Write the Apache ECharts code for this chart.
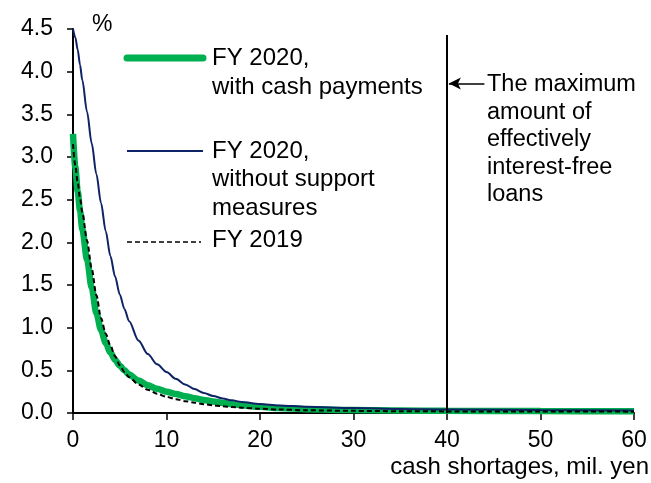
<!DOCTYPE html>
<html>
<head>
<meta charset="utf-8">
<script src="https://cdn.jsdelivr.net/npm/echarts@6/dist/echarts.min.js"></script>
<style>
html,body{margin:0;padding:0;background:#fff;}
#c{width:651px;height:483px;}
</style>
</head>
<body>
<div id="c"></div>
<script>
// cash shortages, mil. yen
var xs = [0,0.25,0.5,0.75,1,1.5,2,2.5,3,3.5,4,4.5,5,5.5,6,7,8,9,10,11,12,13,14,15,16,17,18,20,22,25,30,35,40,50,60];
// FY 2020, with cash payments
var cashPayments = [3.27,2.88,2.6,2.37,2.15,1.8,1.47,1.17,0.97,0.82,0.71,0.625,0.555,0.5,0.45,0.38,0.325,0.283,0.25,0.222,0.197,0.174,0.153,0.135,0.118,0.104,0.092,0.072,0.058,0.045,0.034,0.028,0.025,0.022,0.02];
// FY 2020, without support measures
var noSupport = [4.5,4.4,4.26,4.08,3.9,3.53,3.16,2.8,2.46,2.13,1.84,1.6,1.39,1.22,1.075,0.85,0.69,0.57,0.48,0.40,0.335,0.28,0.235,0.198,0.17,0.148,0.13,0.105,0.089,0.073,0.058,0.048,0.042,0.034,0.03];
// FY 2019
var fy2019 = [3.15,2.9,2.7,2.52,2.35,2.02,1.69,1.38,1.11,0.93,0.79,0.665,0.56,0.48,0.42,0.335,0.272,0.225,0.19,0.162,0.139,0.12,0.104,0.09,0.079,0.07,0.062,0.05,0.041,0.032,0.025,0.021,0.019,0.017,0.016];
var seriesNames = ['FY 2020,\nwith cash payments','FY 2020,\nwithout support\nmeasures','FY 2019'];
var maxLoan = 40;
var annotation = 'The maximum\namount of\neffectively\ninterest-free\nloans';

function pairs(v){ return xs.map(function(x,i){ return [x, v[i]]; }); }

var FONT = 'Liberation Sans, Arial, sans-serif';
var chart = echarts.init(document.getElementById('c'), null, {renderer:'canvas'});

var option = {
  animation:false,
  grid: {left:73, right:17, top:29, bottom:70},
  xAxis: {
    type:'value', min:0, max:60, interval:10,
    axisLine:{show:true, onZero:false, lineStyle:{color:'#000', width:2}},
    axisTick:{show:true, inside:false, length:7, lineStyle:{color:'#000', width:1.5}},
    splitLine:{show:false},
    axisLabel:{color:'#000', fontFamily:FONT, fontSize:23, margin:16}
  },
  yAxis: {
    type:'value', min:0, max:4.5, interval:0.5,
    axisLine:{show:true, lineStyle:{color:'#000', width:2}},
    axisTick:{show:true, length:6, lineStyle:{color:'#000', width:1.5}},
    splitLine:{show:false},
    axisLabel:{color:'#000', fontFamily:FONT, fontSize:23, margin:20,
      formatter:function(v){ return v.toFixed(1); }}
  },
  series: [
    {name:seriesNames[0], type:'line', data:pairs(cashPayments), showSymbol:false, smooth:0.3, smoothMonotone:'x',
     lineStyle:{color:'#00B050', width:6.5}, z:2},
    {name:seriesNames[1], type:'line', data:pairs(noSupport), showSymbol:false, smooth:0.3, smoothMonotone:'x',
     lineStyle:{color:'#0E2366', width:2}, z:3},
    {name:seriesNames[2], type:'line', data:pairs(fy2019), showSymbol:false, smooth:0.3, smoothMonotone:'x',
     lineStyle:{color:'#000', width:2, type:[5,3]}, z:4,
     markLine:{silent:true, symbol:['none','none'], label:{show:false},
       data:[
         [{coord:[maxLoan,0]},{coord:[maxLoan,4.43]}]
       ],
       lineStyle:{color:'#000', width:2, type:'solid'}}
    },
    {name:'arrow', type:'line', data:[], showSymbol:false,
     markLine:{silent:true, symbol:['arrow','none'], symbolSize:[9,12], label:{show:false},
       data:[[{coord:[maxLoan+0.2,3.86]},{coord:[maxLoan+4.0,3.86]}]],
       lineStyle:{color:'#000', width:1.5, type:'solid'}}
    }
  ],
  graphic: [
    {type:'text', left:92, top:13, style:{text:'%', font:'23px '+FONT, fill:'#000'}},
    {type:'text', right:2, top:455, style:{text:'cash shortages, mil. yen', font:'24px '+FONT, fill:'#000'}},
    {type:'text', left:487, top:71, style:{text:annotation, font:'23.5px '+FONT, fill:'#000', lineHeight:27.5}},
    // legend
    {type:'line', shape:{x1:127,y1:58,x2:203,y2:58}, style:{stroke:'#00B050', lineWidth:7, lineCap:'round'}},
    {type:'text', left:212, top:44, style:{text:seriesNames[0], font:'24px '+FONT, fill:'#000', lineHeight:29}},
    {type:'line', shape:{x1:127,y1:151,x2:203,y2:151}, style:{stroke:'#0E2366', lineWidth:2}},
    {type:'text', left:212, top:137, style:{text:seriesNames[1], font:'24px '+FONT, fill:'#000', lineHeight:28.5}},
    {type:'line', shape:{x1:127,y1:242,x2:201,y2:242}, style:{stroke:'#000', lineWidth:1.5, lineDash:[5,3]}},
    {type:'text', left:212, top:228, style:{text:seriesNames[2], font:'24px '+FONT, fill:'#000'}}
  ]
};
chart.setOption(option);
</script>
</body>
</html>
